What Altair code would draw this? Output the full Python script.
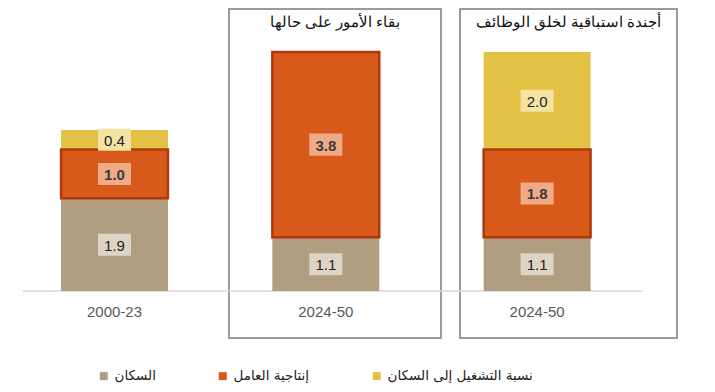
import altair as alt
import pandas as pd

# ---- data ----
period_labels = ["2000-23", "2024-50", "2024-50"]
panel_titles = ["", "بقاء الأمور على حالها", "أجندة استباقية لخلق الوظائف"]
series_names = ["السكان", "إنتاجية العامل", "نسبة التشغيل إلى السكان"]
population = [1.9, 1.1, 1.1]
productivity = [1.0, 3.8, 1.8]
employment = [0.4, 0.0, 2.0]

# ---- styling ----
fill_colors = ["#B19D7F", "#D75A1A", "#E3C144"]
label_bg = ["#DDD4C6", "#EFAA88", "#F4E3A2"]
border_orange = "#B0380C"
HALF = 0.253

rows = []
for i in range(len(period_labels)):
    base = 0.0
    for k, (s, vals) in enumerate(zip(series_names, [population, productivity, employment])):
        v = vals[i]
        if v > 0:
            rows.append({"idx": i, "series": s, "value": v,
                         "x0": i - HALF, "x1": i + HALF,
                         "y0": base, "y1": base + v, "ym": base + v / 2,
                         "lab": f"{v:.1f}", "bg": label_bg[k]})
        base += v
df = pd.DataFrame(rows)

XDOM = [-0.504, 2.804]
YDOM = [-1.906, 5.80]


def X(f):
    return alt.X(f, type="quantitative", scale=alt.Scale(domain=XDOM, nice=False, zero=False), axis=None)


def Y(f):
    return alt.Y(f, type="quantitative", scale=alt.Scale(domain=YDOM, nice=False, zero=False), axis=None)


color_scale = alt.Scale(domain=series_names, range=fill_colors)

bars = alt.Chart(df).mark_bar().encode(
    x=X("x0"), x2="x1", y=Y("y0"), y2="y1",
    color=alt.Color("series:N", scale=color_scale,
                    legend=alt.Legend(orient="none", legendX=89, legendY=361,
                                      direction="horizontal", title=None, padding=0,
                                      symbolType="square", symbolSize=64,
                                      labelFontSize=13.5, labelColor="#222",
                                      labelOffset=4, columnPadding=60,
                                      labelFont="DejaVu Sans")),
)

orange_border = alt.Chart(df).transform_filter(
    alt.datum.series == series_names[1]
).mark_bar(fillOpacity=0, stroke=border_orange, strokeWidth=2.5).encode(
    x=X("x0"), x2="x1", y=Y("y0"), y2="y1",
)

label_boxes = alt.Chart(df).mark_point(
    shape="M-1,-0.667L1,-0.667L1,0.667L-1,0.667Z", filled=True, opacity=1, size=33 * 33
).encode(
    x=X("idx"), y=Y("ym"),
    fill=alt.Fill("bg:N", scale=None),
)

label_text_plain = alt.Chart(df).transform_filter(
    alt.datum.series != series_names[1]
).mark_text(fontSize=15, font="Liberation Sans", dy=1, color="#222222").encode(
    x=X("idx"), y=Y("ym"), text="lab:N",
)
label_text_bold = alt.Chart(df).transform_filter(
    alt.datum.series == series_names[1]
).mark_text(fontSize=15, font="Liberation Sans", dy=1, color="#3a3a3a", fontWeight="bold").encode(
    x=X("idx"), y=Y("ym"), text="lab:N",
)

base_df = pd.DataFrame({"xa": [-0.433], "xb": [2.50], "y": [0.0]})
baseline = alt.Chart(base_df).mark_rule(color="#D9D9D9", strokeWidth=1.5).encode(
    x=X("xa"), x2="xb", y=Y("y")
)

xlab_df = pd.DataFrame({"idx": list(range(len(period_labels))), "lab": period_labels, "y": [-0.43] * 3})
xlabels = alt.Chart(xlab_df).mark_text(fontSize=15, font="Liberation Sans", color="#595959").encode(
    x=X("idx"), y=Y("y"), text="lab:N"
)

box_df = pd.DataFrame({
    "title": panel_titles[1:],
    "bx0": [0.542, 1.635], "bx1": [1.545, 2.662],
    "by0": [-0.963, -0.963], "by1": [5.78, 5.78],
})
box_df["cx"] = (box_df["bx0"] + box_df["bx1"]) / 2
box_df["ty"] = 5.51
boxes = alt.Chart(box_df).mark_rect(fillOpacity=0, stroke="#9A9A9A", strokeWidth=2).encode(
    x=X("bx0"), x2="bx1", y=Y("by0"), y2="by1"
)
titles = alt.Chart(box_df).mark_text(fontSize=15, color="#111", font="Liberation Sans").encode(
    x=X("cx"), y=Y("ty"), text="title:N"
)

chart = alt.layer(boxes, baseline, bars, orange_border, label_boxes, label_text_plain,
                  label_text_bold, xlabels, titles).properties(
    width=699, height=376, padding=0, autosize=alt.AutoSizeParams(type="none")
).configure_view(stroke=None)

chart.save("out.html", embed_options={"renderer": "svg", "actions": False})
